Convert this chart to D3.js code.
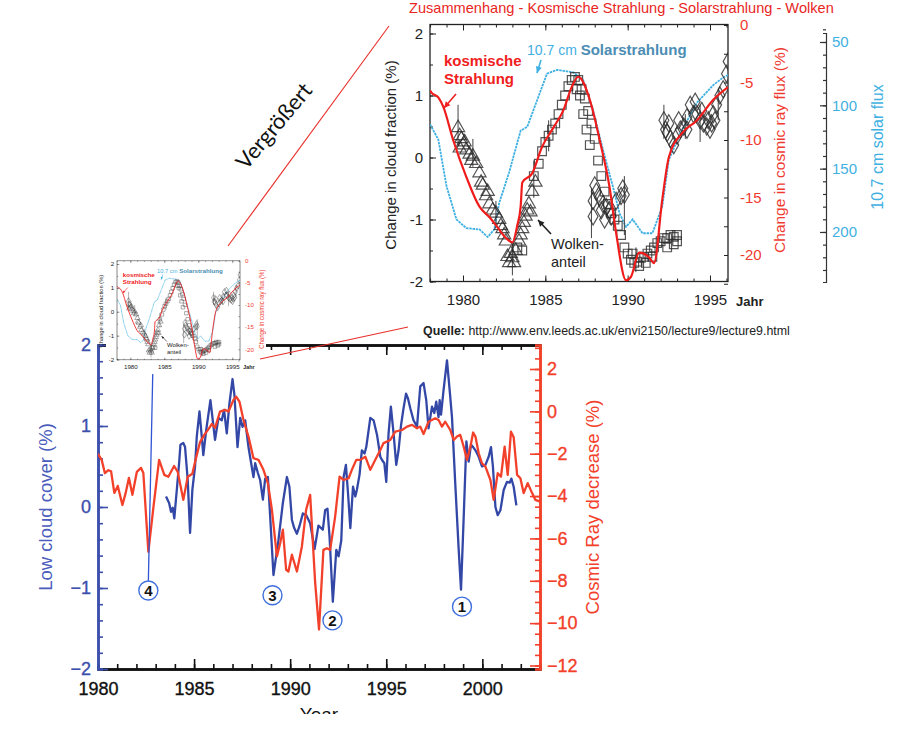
<!DOCTYPE html>
<html>
<head>
<meta charset="utf-8">
<script src="https://cdn.jsdelivr.net/npm/d3@7"></script>
<style>
  body { margin: 0; background: #fff; }
  svg { display: block; }
</style>
</head>
<body>
<svg id="chart" width="900" height="731" font-family="'Liberation Sans', Arial, sans-serif"></svg>
<script>
// ---- main chart data: [year, value] ----
const lowCloud = [[1983.54,0.13],[1983.70,0.05],[1983.80,-0.06],[1983.89,-0.01],[1983.97,-0.14],[1984.10,0.21],[1984.22,0.54],[1984.29,0.77],[1984.44,0.79],[1984.53,0.74],[1984.67,0.33],[1984.79,-0.32],[1984.91,0.21],[1985.05,0.50],[1985.14,0.87],[1985.28,1.18],[1985.40,0.87],[1985.48,0.64],[1985.63,0.95],[1985.85,1.32],[1986.09,0.83],[1986.27,1.10],[1986.44,1.07],[1986.56,1.20],[1986.70,0.91],[1986.84,1.28],[1987.0,1.58],[1987.10,1.38],[1987.26,0.74],[1987.40,1.10],[1987.52,0.99],[1987.66,1.07],[1987.83,0.74],[1987.97,0.54],[1988.09,0.37],[1988.18,0.54],[1988.32,0.42],[1988.44,0.33],[1988.58,0.09],[1988.70,0.35],[1988.84,0.37],[1988.96,-0.12],[1989.13,-0.84],[1989.39,-0.41],[1989.62,0.05],[1989.83,0.37],[1989.96,0.25],[1990.09,-0.16],[1990.21,-0.26],[1990.35,-0.33],[1990.48,-0.24],[1990.66,-0.08],[1990.83,-0.10],[1991.04,-0.20],[1991.27,-0.52],[1991.47,-0.23],[1991.70,-0.28],[1991.82,-0.04],[1991.94,-0.02],[1992.05,-0.37],[1992.22,-1.17],[1992.40,-0.53],[1992.52,-0.61],[1992.66,-0.41],[1992.78,0.37],[1992.90,0.52],[1993.01,0.17],[1993.13,-0.26],[1993.27,0.25],[1993.39,0.13],[1993.47,0.21],[1993.61,0.40],[1993.73,0.70],[1993.87,0.66],[1993.96,0.74],[1994.17,1.10],[1994.34,1.07],[1994.52,0.89],[1994.69,0.62],[1994.78,0.58],[1994.90,0.54],[1995.0,0.31],[1995.12,0.91],[1995.24,1.24],[1995.38,0.91],[1995.52,0.52],[1995.64,0.70],[1995.77,1.01],[1995.90,1.22],[1996.03,1.40],[1996.13,1.34],[1996.25,1.22],[1996.42,1.07],[1996.60,0.99],[1996.77,1.49],[1996.94,1.53],[1997.08,1.32],[1997.20,0.97],[1997.38,1.24],[1997.50,1.16],[1997.60,1.30],[1997.72,1.11],[1997.78,1.32],[1997.85,1.14],[1997.98,1.44],[1998.16,1.81],[1998.30,1.44],[1998.42,1.11],[1998.59,0.29],[1998.77,-0.53],[1998.89,-1.02],[1999.03,-0.12],[1999.17,0.81],[1999.29,0.56],[1999.41,0.77],[1999.52,0.74],[1999.64,0.70],[1999.81,0.62],[1999.98,0.50],[2000.16,0.52],[2000.33,0.62],[2000.45,0.74],[2000.55,0.50],[2000.68,0.00],[2000.80,-0.10],[2000.94,-0.04],[2001.11,0.21],[2001.28,0.31],[2001.42,0.30],[2001.51,0.35],[2001.63,0.25],[2001.77,0.02]];

const cosmicRay = [[1980.0,-2.0],[1980.19,-2.29],[1980.36,-2.92],[1980.54,-2.78],[1980.68,-2.83],[1980.85,-3.85],[1981.03,-3.52],[1981.27,-4.42],[1981.44,-3.85],[1981.61,-3.14],[1981.79,-3.94],[1982.02,-2.86],[1982.24,-2.67],[1982.36,-2.91],[1982.62,-6.63],[1982.88,-4.56],[1983.18,-2.29],[1983.45,-3.0],[1983.66,-3.09],[1983.96,-2.58],[1984.15,-2.86],[1984.44,-4.18],[1984.67,-3.09],[1984.91,-2.95],[1985.05,-2.39],[1985.31,-1.45],[1985.54,-1.1],[1985.74,-0.85],[1985.92,-0.6],[1986.09,-0.78],[1986.35,-0.01],[1986.61,0.07],[1986.79,-0.01],[1987.05,0.54],[1987.19,0.69],[1987.36,0.46],[1987.57,-0.41],[1987.83,-1.19],[1988.09,-2.21],[1988.35,-2.29],[1988.61,-2.76],[1988.84,-3.39],[1989.05,-4.65],[1989.31,-6.85],[1989.48,-6.22],[1989.62,-5.59],[1989.79,-7.48],[1989.91,-7.56],[1990.09,-6.77],[1990.35,-7.56],[1990.61,-6.38],[1990.83,-4.65],[1991.04,-3.94],[1991.30,-8.09],[1991.50,-10.3],[1991.73,-6.54],[1991.91,-6.46],[1992.08,-6.54],[1992.34,-4.97],[1992.57,-3.08],[1992.78,-3.24],[1993.04,-3.16],[1993.21,-2.76],[1993.44,-2.29],[1993.65,-2.29],[1993.91,-2.14],[1994.17,-2.76],[1994.43,-2.29],[1994.69,-1.82],[1994.86,-1.50],[1995.21,-1.35],[1995.47,-0.96],[1995.82,-0.88],[1996.08,-0.72],[1996.34,-0.64],[1996.60,-0.80],[1996.77,-0.72],[1996.94,-1.07],[1997.20,-0.49],[1997.55,-0.33],[1997.72,-0.41],[1997.90,-0.72],[1998.07,-0.49],[1998.33,-0.88],[1998.51,-1.35],[1998.68,-1.19],[1998.85,-1.11],[1999.03,-1.67],[1999.20,-2.29],[1999.38,-1.67],[1999.52,-1.00],[1999.64,-1.19],[1999.81,-1.98],[1999.98,-2.45],[2000.16,-2.61],[2000.42,-3.24],[2000.59,-4.18],[2000.80,-2.92],[2000.97,-3.08],[2001.16,-1.67],[2001.32,-3.0],[2001.49,-0.96],[2001.63,-1.22],[2001.81,-3.0],[2001.98,-3.16],[2002.15,-3.86],[2002.36,-3.39],[2002.59,-3.86],[2002.76,-4.18],[2003.0,-4.26]];

// circled event numbers: [label, year, cloud value]
const events = [["1",1998.94,-1.23],["2",1992.2,-1.40],["3",1989.08,-1.09],["4",1982.62,-1.03]];

const yearTicks = [1980, 1985, 1990, 1995, 2000];
const cloudTicks = [-2, -1, 0, 1, 2];
const rayTicks = [-12, -10, -8, -6, -4, -2, 0, 2];

// ---- inset data (cloud / cosmic ray / solar flux figure) ----
const insetCosmic = [[1978.0,-5.7],[1978.1,-5.9],[1978.5,-6.3],[1978.8,-7.1],[1979.4,-10.0],[1980.2,-13.2],[1981.0,-15.8],[1981.6,-16.7],[1982.1,-17.6],[1982.6,-18.5],[1983.0,-18.9],[1983.3,-17.4],[1983.5,-15.8],[1983.6,-13.7],[1984.2,-12.9],[1984.8,-10.6],[1985.5,-8.9],[1986.1,-7.4],[1986.6,-5.4],[1987.0,-4.5],[1987.7,-6.5],[1988.3,-10.0],[1988.9,-14.1],[1989.3,-18.1],[1989.9,-22.2],[1990.2,-21.9],[1990.7,-19.8],[1991.3,-20.2],[1991.6,-20.7],[1992.1,-15.2],[1992.5,-11.5],[1993.3,-9.4],[1994.2,-8.3],[1995.2,-6.5],[1996.1,-5.4]];

const insetSolar = [[1978.0,115],[1978.5,127],[1979.0,164],[1979.6,190],[1980.2,197],[1981.0,198],[1981.5,204],[1981.9,198],[1982.2,177],[1982.8,153],[1983.5,120],[1983.9,117],[1984.5,96],[1985.1,75],[1985.7,72],[1986.7,74],[1987.3,80],[1987.9,104],[1988.5,135],[1989.1,164],[1989.5,185],[1989.9,196],[1990.3,190],[1990.9,201],[1991.5,201],[1992.1,180],[1992.5,143],[1993.2,122],[1994.2,98],[1995.2,84],[1995.8,78],[1996.1,76]];

const cloudTriangles = [[1979.7,0.48],[1979.8,0.35],[1979.8,0.15],[1979.9,0.3],[1980.0,0.2],[1980.1,0.25],[1980.2,0.12],[1980.4,0.05],[1980.5,-0.05],[1980.6,0.02],[1980.8,-0.1],[1981.0,-0.25],[1981.1,-0.4],[1981.2,-0.45],[1981.4,-0.62],[1981.5,-0.55],[1981.6,-0.75],[1981.8,-0.85],[1982.0,-0.9],[1982.2,-1.0],[1982.3,-1.1],[1982.4,-1.15],[1982.5,-1.25],[1982.6,-1.35],[1982.7,-1.6],[1982.8,-1.7],[1982.9,-1.55],[1983.0,-1.62],[1983.1,-1.7],[1983.2,-1.5],[1983.4,-1.35],[1983.5,-1.25],[1983.6,-1.15],[1983.7,-1.05],[1983.8,-0.95],[1983.9,-0.85],[1984.0,-0.75],[1984.1,-0.88],[1984.2,-0.55],[1984.4,-0.4]];

const cloudSquares = [[1983.3,-1.45],[1983.6,-1.5],[1984.3,-0.3],[1984.6,-0.1],[1984.8,0.1],[1985.0,0.25],[1985.2,0.35],[1985.4,0.45],[1985.6,0.55],[1985.8,0.7],[1986.0,0.85],[1986.2,1.0],[1986.4,1.15],[1986.6,1.25],[1986.8,1.3],[1986.9,1.1],[1987.0,1.25],[1987.1,1.0],[1987.2,1.1],[1987.3,0.7],[1987.4,0.95],[1987.5,0.45],[1987.6,0.75],[1987.7,0.2],[1987.8,0.55],[1988.0,0.3],[1988.2,-0.05],[1988.4,-0.3],[1988.6,-0.55],[1988.8,-0.75],[1989.0,-0.9],[1989.2,-1.0],[1989.4,-1.1],[1989.6,-1.25],[1989.8,-1.45],[1990.0,-1.55],[1990.2,-1.65],[1990.3,-1.55],[1990.4,-1.7],[1990.6,-1.68],[1990.7,-1.75],[1990.8,-1.62],[1991.0,-1.6],[1991.1,-1.7],[1991.2,-1.55],[1991.4,-1.5],[1991.5,-1.6],[1991.6,-1.45],[1991.8,-1.38],[1992.0,-1.35],[1992.2,-1.3],[1992.4,-1.3],[1992.4,-1.45],[1992.6,-1.25],[1992.8,-1.28],[1992.8,-1.4],[1993.0,-1.25],[1993.0,-1.35]];

const cloudDiamonds = [[1987.9,-0.7],[1987.9,-0.95],[1988.0,-0.45],[1988.1,-0.55],[1988.3,-0.65],[1988.4,-0.85],[1988.5,-0.75],[1988.6,-1.0],[1988.7,-0.8],[1988.9,-0.85],[1989.0,-0.95],[1989.3,-0.7],[1989.6,-0.62],[1989.7,-0.5],[1989.8,-0.6],[1992.2,0.6],[1992.3,0.45],[1992.4,0.4],[1992.5,0.55],[1992.6,0.3],[1992.8,0.2],[1993.0,0.35],[1993.1,0.6],[1993.2,0.45],[1993.4,0.5],[1993.6,0.65],[1993.6,0.45],[1993.8,0.85],[1994.0,0.7],[1994.1,0.9],[1994.2,0.7],[1994.4,0.6],[1994.5,0.75],[1994.6,0.55],[1994.8,0.5],[1994.9,0.6],[1995.0,0.45],[1995.1,0.55],[1995.2,0.7],[1995.3,0.6],[1995.4,0.85],[1995.6,1.0],[1995.8,1.1],[1996.0,1.35],[1996.1,1.55]];

// [year, low, high]
const cloudErrors = [[1979.7,0.2,0.85],[1980.6,-0.15,0.3],[1982.0,-1.1,-0.7],[1983.0,-1.9,-1.4],[1984.3,-0.65,-0.05],[1985.2,0.1,0.6],[1987.8,-1.3,-0.5],[1989.8,-1.25,-0.3],[1990.5,-1.85,-1.45],[1992.2,0.3,0.85],[1993.5,0.3,0.7],[1994.4,0.25,0.85],[1995.5,0.6,1.1]];

const insetYearTicks = [1980, 1985, 1990, 1995];
const insetCloudTicks = [-2, -1, 0, 1, 2];
const insetRayTicks = [0, -5, -10, -15, -20];
const solarTicks = [50, 100, 150, 200];

const BLUE = "#3b4fab";
const RED = "#f2402a";
const CYAN = "#3fb0e2";

const svg = d3.select("#chart");

// ================= main chart =================
const x = d3.scaleLinear().domain([1980, 2003]).range([98, 540]);
const yCloud = d3.scaleLinear().domain([-2, 2]).range([669, 345]);
const yRay = d3.scaleLinear().domain([-12.165, 3.133]).range([669, 345]);

const main = svg.append("g");

const styleAxis = (g, color, size) => {
  g.selectAll("path, line").attr("stroke", color);
  g.select(".domain").attr("stroke-width", 2.5);
  g.selectAll("line").attr("stroke-width", 1.6);
  g.selectAll("text")
    .attr("fill", color).attr("font-size", size)
    .attr("stroke", color).attr("stroke-width", 0.35);
};

// bottom / top
main.append("g")
  .attr("transform", `translate(0,${yCloud(-2)})`)
  .call(d3.axisBottom(x).tickValues(d3.range(1981, 2003)).tickSize(-5).tickFormat(""))
  .call((g) => styleAxis(g, "#111", 0));
main.append("g")
  .attr("transform", `translate(0,${yCloud(-2)})`)
  .call(d3.axisBottom(x).tickValues(yearTicks).tickSizeInner(-10).tickSizeOuter(0).tickPadding(13).tickFormat(d3.format("d")))
  .call((g) => styleAxis(g, "#111", 18));
main.append("g")
  .attr("transform", `translate(0,${yCloud(2)})`)
  .call(d3.axisTop(x).tickValues(d3.range(1981, 2003)).tickSize(-5).tickFormat(""))
  .call((g) => styleAxis(g, "#111", 0));
main.append("g")
  .attr("transform", `translate(0,${yCloud(2)})`)
  .call(d3.axisTop(x).tickValues(yearTicks).tickSizeInner(-10).tickSizeOuter(0).tickFormat(""))
  .call((g) => styleAxis(g, "#111", 0));

// left (cloud)
main.append("g")
  .attr("transform", `translate(${x(1980)},0)`)
  .call(d3.axisLeft(yCloud).tickValues(d3.range(-2, 2.01, 0.2)).tickSize(-5).tickFormat(""))
  .call((g) => styleAxis(g, BLUE, 0));
main.append("g")
  .attr("transform", `translate(${x(1980)},0)`)
  .call(d3.axisLeft(yCloud).tickValues(cloudTicks).tickSizeInner(-10).tickSizeOuter(0).tickPadding(7).tickFormat(d3.format("d")))
  .call((g) => styleAxis(g, BLUE, 18));

// right (cosmic rays)
main.append("g")
  .attr("transform", `translate(${x(2003)},0)`)
  .call(d3.axisRight(yRay).tickValues(d3.range(-12, 3.01, 0.5)).tickSize(-5).tickFormat(""))
  .call((g) => styleAxis(g, RED, 0));
main.append("g")
  .attr("transform", `translate(${x(2003)},0)`)
  .call(d3.axisRight(yRay).tickValues(rayTicks).tickSizeInner(-10).tickSizeOuter(0).tickPadding(7).tickFormat(d3.format("d")))
  .call((g) => styleAxis(g, RED, 18));

svg.append("clipPath").attr("id", "mainClip")
  .append("rect").attr("x", x(1980)).attr("y", yCloud(2)).attr("width", x(2003) - x(1980)).attr("height", yCloud(-2) - yCloud(2));

const plot = main.append("g").attr("clip-path", "url(#mainClip)");
plot.append("path")
  .datum(lowCloud)
  .attr("fill", "none").attr("stroke", "#3347a6").attr("stroke-width", 2.3).attr("stroke-linejoin", "round")
  .attr("d", d3.line().x((d) => x(d[0])).y((d) => yCloud(d[1])));
plot.append("path")
  .datum(cosmicRay)
  .attr("fill", "none").attr("stroke", RED).attr("stroke-width", 2.3).attr("stroke-linejoin", "round")
  .attr("d", d3.line().x((d) => x(d[0])).y((d) => yRay(d[1])));

main.append("text")
  .attr("transform", `translate(52,${yCloud(0)}) rotate(-90)`)
  .attr("text-anchor", "middle").attr("font-size", 18.5).attr("fill", "#4a5cbc")
  .text("Low cloud cover (%)");
main.append("text")
  .attr("transform", `translate(599,${yCloud(0)}) rotate(-90)`)
  .attr("text-anchor", "middle").attr("font-size", 18.5).attr("fill", RED)
  .text("Cosmic Ray decrease (%)");

svg.append("clipPath").attr("id", "pageClip")
  .append("rect").attr("x", 0).attr("y", 0).attr("width", 900).attr("height", 714);
main.append("text")
  .attr("clip-path", "url(#pageClip)")
  .attr("x", (x(1980) + x(2003)) / 2).attr("y", 721)
  .attr("text-anchor", "middle").attr("font-size", 19).attr("fill", "#111")
  .text("Year");

// arrow from event 4 up to the thumbnail
const ev4 = events.find((e) => e[0] === "4");
main.append("line")
  .attr("x1", x(ev4[1])).attr("y1", yCloud(ev4[2]) - 9)
  .attr("x2", 153).attr("y2", 362)
  .attr("stroke", "#2f55d4").attr("stroke-width", 1.3);
main.append("path")
  .attr("d", "M153,352L148,364L158,364Z")
  .attr("fill", "#2f55d4");

const evG = main.selectAll("g.event").data(events).join("g")
  .attr("class", "event")
  .attr("transform", (d) => `translate(${x(d[1])},${yCloud(d[2])})`);
evG.append("circle").attr("r", 9.5).attr("fill", "#fff").attr("stroke", "#3f6fdc").attr("stroke-width", 1.4);
evG.append("text")
  .attr("text-anchor", "middle").attr("dy", "0.36em")
  .attr("font-size", 15).attr("font-weight", "bold").attr("fill", "#111")
  .text((d) => d[0]);

// ================= inset figure =================
const drawInset = (g, full, id) => {
  const ix = d3.scaleLinear().domain([1980, 1995]).range([463, 710]);
  const iy = d3.scaleLinear().domain([-2, 2]).range([281.5, 33.5]);
  const ir = d3.scaleLinear().domain([-20, 0]).range([255, 25]);
  const left = 430, right = 728, top = 24.5, bottom = 281.5;

  g.append("rect")
    .attr("x", left).attr("y", top).attr("width", right - left).attr("height", bottom - top)
    .attr("fill", "none").attr("stroke", "#222").attr("stroke-width", 1.3);

  const tickAxis = (axis, tx, ty) => g.append("g")
    .attr("transform", `translate(${tx},${ty})`)
    .call(axis)
    .call((a) => a.select(".domain").remove())
    .call((a) => a.selectAll("line").attr("stroke", "#222"));

  tickAxis(d3.axisBottom(ix).tickValues(d3.range(1978, 1997)).tickSize(-3).tickFormat(""), 0, bottom);
  tickAxis(d3.axisTop(ix).tickValues(d3.range(1978, 1997)).tickSize(-3).tickFormat(""), 0, top);
  tickAxis(d3.axisBottom(ix).tickValues(insetYearTicks).tickSizeInner(-6).tickPadding(13).tickFormat(d3.format("d")), 0, bottom)
    .call((a) => a.selectAll("text").attr("font-size", 15).attr("fill", "#222"));
  tickAxis(d3.axisTop(ix).tickValues(insetYearTicks).tickSizeInner(-6).tickFormat(""), 0, top);
  tickAxis(d3.axisLeft(iy).tickValues(d3.range(-2, 2.01, 0.5)).tickSize(-3).tickFormat(""), left, 0);
  tickAxis(d3.axisLeft(iy).tickValues(insetCloudTicks).tickSizeInner(-6).tickPadding(7).tickFormat((d) => String(d)), left, 0)
    .call((a) => a.selectAll("text").attr("font-size", 15).attr("fill", "#222"));
  tickAxis(d3.axisRight(ir).tickValues(d3.range(-22.5, 0.1, 2.5)).tickSize(-4).tickFormat(""), right, 0);

  g.selectAll("text.rayLabel").data(insetRayTicks).join("text")
    .attr("class", "rayLabel")
    .attr("x", 740).attr("y", (d) => ir(d)).attr("dy", "0.35em")
    .attr("font-size", 15).attr("fill", "#f03a30")
    .text((d) => String(d));

  g.append("text")
    .attr("x", 736).attr("y", bottom + 24)
    .attr("font-size", 13).attr("font-weight", "bold").attr("fill", "#222")
    .text("Jahr");

  g.append("text")
    .attr("transform", `translate(396,155) rotate(-90)`)
    .attr("text-anchor", "middle").attr("font-size", 15).attr("fill", "#222")
    .text("Change in cloud fraction (%)");
  g.append("text")
    .attr("transform", `translate(785,150) rotate(-90)`)
    .attr("text-anchor", "middle").attr("font-size", 15.5).attr("fill", "#f03a30")
    .text("Change in cosmic ray flux (%)");

  g.append("clipPath").attr("id", id)
    .append("rect").attr("x", left).attr("y", top).attr("width", right - left).attr("height", bottom - top);
  const area = g.append("g").attr("clip-path", `url(#${id})`);

  // solar flux curve, plotted against its own (inverted) scale
  const is = d3.scaleLinear().domain([42.9, 239.5]).range([33, 282]);
  area.append("path")
    .datum(insetSolar)
    .attr("fill", "none").attr("stroke", CYAN).attr("stroke-width", 1.8).attr("stroke-dasharray", "2.5,0.8")
    .attr("d", d3.line().x((d) => ix(d[0])).y((d) => is(d[1])));

  area.selectAll("line.err").data(cloudErrors).join("line")
    .attr("class", "err")
    .attr("x1", (d) => ix(d[0])).attr("x2", (d) => ix(d[0]))
    .attr("y1", (d) => iy(d[1])).attr("y2", (d) => iy(d[2]))
    .attr("stroke", "#444").attr("stroke-width", 1);

  const markers = [
    [cloudTriangles, d3.symbolTriangle, 75],
    [cloudSquares, d3.symbolSquare, 75],
    [cloudDiamonds, d3.symbolDiamond, 85],
  ];
  markers.forEach(([pts, type, size]) => {
    area.append("g").selectAll("path").data(pts).join("path")
      .attr("transform", (d) => `translate(${ix(d[0])},${iy(d[1])})`)
      .attr("d", d3.symbol(type, size))
      .attr("fill", "none").attr("stroke", "#2a2a2a").attr("stroke-opacity", 0.8).attr("stroke-width", 1.2);
  });

  area.append("path")
    .datum(insetCosmic)
    .attr("fill", "none").attr("stroke", "#f01c1c").attr("stroke-width", 2.2).attr("stroke-linejoin", "round")
    .attr("d", d3.line().curve(d3.curveMonotoneX).x((d) => ix(d[0])).y((d) => ir(d[1])));

  // annotations
  const kos = g.append("text").attr("font-size", 15).attr("font-weight", "bold").attr("fill", "#f02020");
  kos.append("tspan").attr("x", 444).attr("y", 66).text("kosmische");
  kos.append("tspan").attr("x", 444).attr("y", 84).text("Strahlung");

  const sol = g.append("text").attr("x", 527).attr("y", 55);
  sol.append("tspan").attr("font-size", 14).attr("fill", CYAN).text("10.7 cm ");
  sol.append("tspan").attr("font-size", 15).attr("font-weight", "bold").attr("fill", "#4b8db4").text("Solarstrahlung");

  const wol = g.append("text").attr("font-size", 14.5).attr("fill", "#222");
  wol.append("tspan").attr("x", 551).attr("y", 249).text("Wolken-");
  wol.append("tspan").attr("x", 551).attr("y", 267).text("anteil");

  const arrow = (x1, y1, x2, y2, color) => {
    const a = Math.atan2(y2 - y1, x2 - x1);
    const h = 7;
    g.append("line")
      .attr("x1", x1).attr("y1", y1).attr("x2", x2).attr("y2", y2)
      .attr("stroke", color).attr("stroke-width", 1.6);
    g.append("path")
      .attr("d", `M${x2},${y2}L${x2 - h * Math.cos(a - 0.45)},${y2 - h * Math.sin(a - 0.45)}L${x2 - h * Math.cos(a + 0.45)},${y2 - h * Math.sin(a + 0.45)}Z`)
      .attr("fill", color);
  };
  arrow(456, 94, 444, 108, "#f02020");
  arrow(541, 60, 537, 73, CYAN);
  arrow(551, 234, 538, 220, "#222");

  if (!full) return;

  g.append("text")
    .attr("x", 409).attr("y", 13)
    .attr("font-size", 14.6).attr("fill", "#e8261e")
    .text("Zusammenhang - Kosmische Strahlung - Solarstrahlung - Wolken");

  const q = g.append("text").attr("x", 423).attr("y", 335).attr("font-size", 12.4).attr("fill", "#222");
  q.append("tspan").attr("font-weight", "bold").text("Quelle:");
  q.append("tspan").text(" http://www.env.leeds.ac.uk/envi2150/lecture9/lecture9.html");

  g.append("g")
    .attr("transform", "translate(826,0)")
    .call(d3.axisRight(is).tickValues(d3.range(40, 240, 10)).tickSize(-3).tickFormat(""))
    .call((a) => a.selectAll("path, line").attr("stroke", "#333").attr("stroke-width", 1.2));
  g.append("g")
    .attr("transform", "translate(826,0)")
    .call(d3.axisRight(is).tickValues(solarTicks).tickSizeInner(-6).tickSizeOuter(0).tickPadding(6).tickFormat(d3.format("d")))
    .call((a) => a.select(".domain").remove())
    .call((a) => a.selectAll("line").attr("stroke", "#333").attr("stroke-width", 1.2))
    .call((a) => a.selectAll("text").attr("font-size", 15).attr("fill", CYAN));
  g.append("text")
    .attr("transform", "translate(883,147) rotate(-90)")
    .attr("text-anchor", "middle").attr("font-size", 16).attr("fill", CYAN)
    .text("10.7 cm solar flux");
};

// thumbnail copy inside the main chart
svg.append("rect").attr("x", 106).attr("y", 252).attr("width", 160).attr("height", 122).attr("fill", "#fff");
const thumb = svg.append("g").attr("transform", "translate(-60.5,251.4) scale(0.4128,0.3852)");
drawInset(thumb, false, "thumbClip");

// connector lines
svg.append("line").attr("x1", 228).attr("y1", 246).attr("x2", 389).attr("y2", 26)
  .attr("stroke", "#e8302a").attr("stroke-width", 1.1);
svg.append("line").attr("x1", 260).attr("y1", 359).attr("x2", 408).attr("y2", 327)
  .attr("stroke", "#e8302a").attr("stroke-width", 1.1);

svg.append("text")
  .attr("transform", "translate(274,126) rotate(-50)")
  .attr("text-anchor", "middle").attr("dy", "0.35em")
  .attr("font-family", "Lato, 'Open Sans', sans-serif").attr("font-size", 22).attr("fill", "#111")
  .text("Vergrößert");

const big = svg.append("g");
drawInset(big, true, "bigClip");
</script>
</body>
</html>
